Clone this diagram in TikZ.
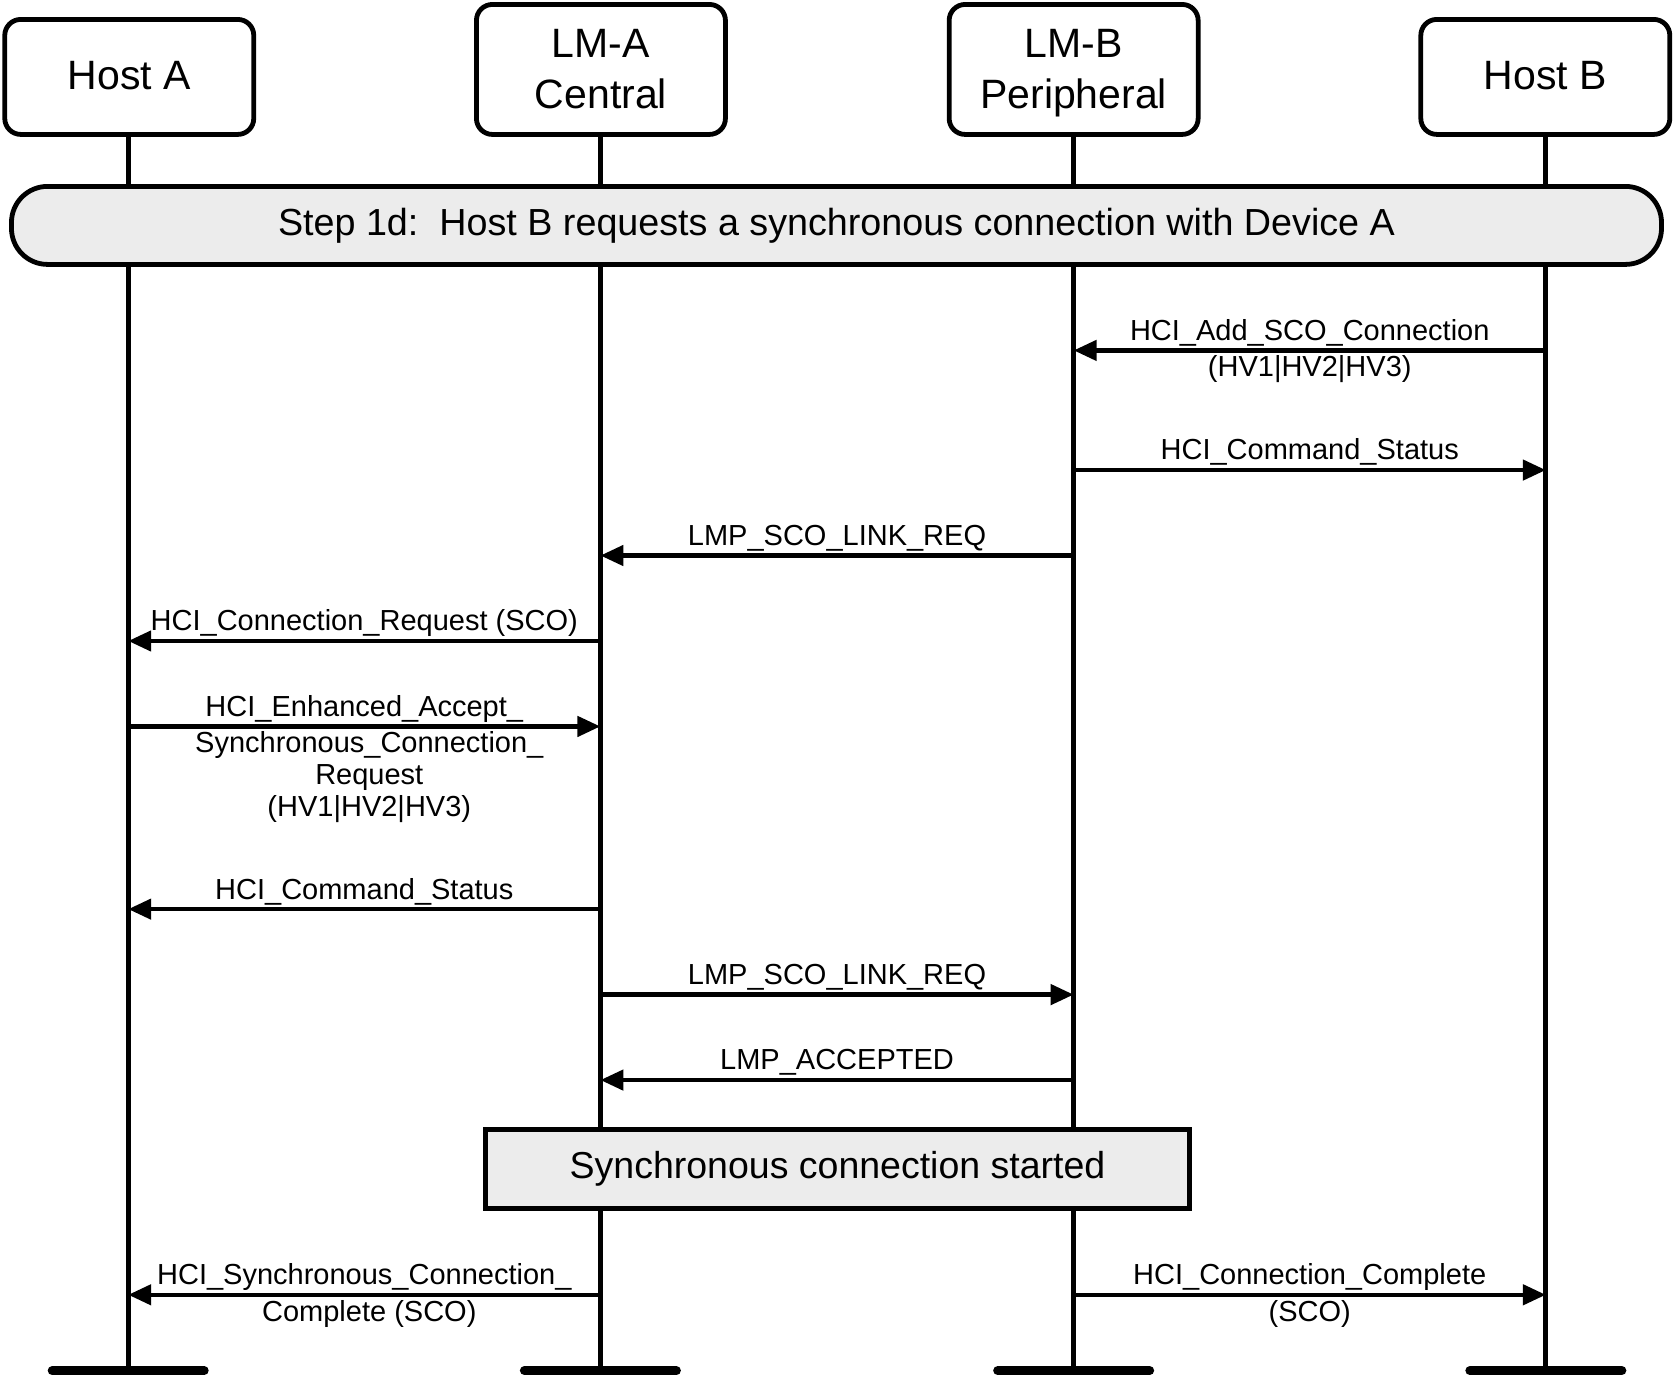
\documentclass[tikz,border=0pt]{standalone}
\usepackage{fontspec}
\setmainfont{Liberation Sans}
\usetikzlibrary{arrows.meta}
\definecolor{boxgray}{RGB}{236,236,236}
\begin{document}
\begin{tikzpicture}[x=1.0683pt, y=-1.0683pt,
  every node/.style={inner sep=0pt, outer sep=0pt},
  head/.style={draw, line width=4.8pt, rounded corners=16pt, minimum width=249pt,
    align=center, font=\fontsize{41}{51.3}\selectfont},
  life/.style={line width=4.8pt},
  endbar/.style={line width=9pt, line cap=round},
  msg/.style={line width=4.6pt, -{Triangle[length=23pt,width=20pt]}},
  above lbl/.style={anchor=base, yshift=10.1pt, font=\fontsize{29}{32}\selectfont},
  below lbl/.style={anchor=north, yshift=-5.5pt, align=center, font=\fontsize{29}{32}\selectfont},
  banner/.style={draw, line width=4.8pt, fill=boxgray, rounded corners=36pt,
    minimum width=1650pt, minimum height=78pt, font=\fontsize{37.7}{40}\selectfont},
  phasebox/.style={draw, line width=4.8pt, fill=boxgray,
    minimum width=704pt, minimum height=79pt, font=\fontsize{37.5}{40}\selectfont}
]
\useasboundingbox (0,0) rectangle (1567.9,1289);

% headers
\node[head, minimum height=115pt] (hA) at (121,72) {\raisebox{3pt}{Host A}};
\node[head, minimum height=130pt] (lA) at (562.5,65) {LM-A\\Central};
\node[head, minimum height=130pt] (lB) at (1005,65) {LM-B\\Peri\smash{p}heral};
\node[head, minimum height=115pt] (hB) at (1446.5,72) {\raisebox{3pt}{Host B}};

% lifeline ends
\coordinate (eA) at (120,1283);
\coordinate (eLA) at (562,1283);
\coordinate (eLB) at (1005,1283);
\coordinate (eB) at (1447,1283);

\draw[life] (hA.south -| eA) -- (eA);
\draw[life] (lA.south -| eLA) -- (eLA);
\draw[life] (lB.south -| eLB) -- (eLB);
\draw[life] (hB.south -| eB) -- (eB);

\foreach \e in {eA,eLA,eLB,eB}{
  \draw[endbar] ([xshift=-76pt]\e) -- ([xshift=76pt]\e);
}

% banner and phase box
\node[banner] (step) at (783,211) {Step 1d:\ \ Host B requests a synchronous connection with Device A};
\node[phasebox] (sync) at (784,1094.5) {Synchronous connection started};

% message end points
\coordinate (m1s) at (1447,328);  \coordinate (m1e) at (1005,328);
\coordinate (m2s) at (1005,440);  \coordinate (m2e) at (1447,440);
\coordinate (m3s) at (1005,520);  \coordinate (m3e) at (562,520);
\coordinate (m4s) at (562,600);   \coordinate (m4e) at (120,600);
\coordinate (m5s) at (120,680);   \coordinate (m5e) at (562,680);
\coordinate (m6s) at (562,851);   \coordinate (m6e) at (120,851);
\coordinate (m7s) at (562,931);   \coordinate (m7e) at (1005,931);
\coordinate (m8s) at (1005,1011); \coordinate (m8e) at (562,1011);
\coordinate (m9s) at (562,1212);  \coordinate (m9e) at (120,1212);
\coordinate (m10s) at (1005,1212); \coordinate (m10e) at (1447,1212);

\draw[msg] (m1s) -- (m1e)
  node[midway, above lbl] (t1a) {HCI\_Add\_SCO\_Connection}
  node[midway, below lbl] (t1b) {(HV1|HV2|HV3)};
\draw[msg] (m2s) -- (m2e)
  node[midway, above lbl] (t2) {HCI\_Command\_Status};
\draw[msg] (m3s) -- (m3e)
  node[midway, above lbl] (t3) {LMP\_SCO\_LINK\_REQ};
\draw[msg] (m4s) -- (m4e)
  node[midway, above lbl] (t4) {HCI\_Connection\_Request (SCO)};
\draw[msg] (m5s) -- (m5e)
  node[midway, above lbl] (t5a) {HCI\_Enhanced\_Accept\_}
  node[midway, below lbl, xshift=5pt] (t5b) {Synchronous\_Connection\_\\Request\\(HV1|HV2|HV3)};
\draw[msg] (m6s) -- (m6e)
  node[midway, above lbl] (t6) {HCI\_Command\_Status};
\draw[msg] (m7s) -- (m7e)
  node[midway, above lbl] (t7) {LMP\_SCO\_LINK\_REQ};
\draw[msg] (m8s) -- (m8e)
  node[midway, above lbl] (t8) {LMP\_ACCEPTED};
\draw[msg] (m9s) -- (m9e)
  node[midway, above lbl] (t9a) {HCI\_Synchronous\_Connection\_}
  node[midway, below lbl, xshift=5pt] (t9b) {Complete (SCO)};
\draw[msg] (m10s) -- (m10e)
  node[midway, above lbl] (t10a) {HCI\_Connection\_Complete}
  node[midway, below lbl] (t10b) {(SCO)};
\end{tikzpicture}
\end{document}
